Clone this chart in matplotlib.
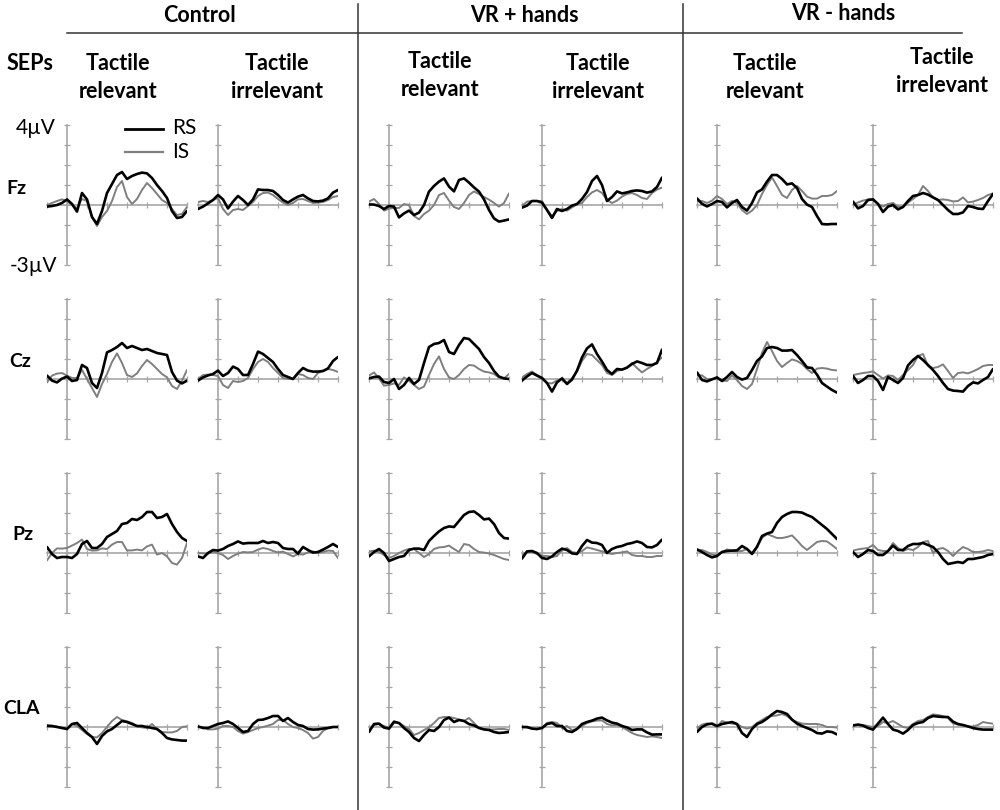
import matplotlib
matplotlib.use("Agg")
import matplotlib.pyplot as plt
from matplotlib.lines import Line2D

plt.rcParams['font.family'] = ['Lato', 'DejaVu Sans']

# ---------------- data ----------------
times = list(range(-100, 601, 25))  # ms

groups = ["Control", "VR + hands", "VR - hands"]
conditions = ["Tactile\nrelevant", "Tactile\nirrelevant"]
electrodes = ["Fz", "Cz", "Pz", "CLA"]
series_names = ["RS", "IS"]

# Fz
fz_ctrl_rel_rs = [-0.08, -0.05, 0, 0.1, 0.28, 0.05, -0.33, 0.6, 0.28, -0.6, -0.95, -0.3, 0.6, 1.05, 1.5, 1.65, 1.3, 1.45, 1.55, 1.62, 1.58, 1.35, 1.0, 0.7, 0.35, -0.3, -0.65, -0.6, -0.3]
fz_ctrl_rel_is = [0, 0.1, 0.2, 0.28, 0.2, 0.0, -0.17, 0.3, 0.2, -0.6, -1.05, -0.6, -0.3, 0.2, 0.9, 1.2, 0.4, 0.05, 0.3, 0.75, 1.1, 0.85, 0.55, 0.25, 0.1, -0.2, -0.5, -0.45, -0.1]
fz_ctrl_irr_rs = [-0.2, -0.08, 0.08, 0.25, 0.5, 0.28, -0.17, 0.17, 0.45, 0.25, 0.0, 0.28, 0.78, 0.75, 0.75, 0.7, 0.5, 0.25, 0.12, 0.28, 0.42, 0.5, 0.33, 0.2, 0.18, 0.22, 0.33, 0.62, 0.75]
fz_ctrl_irr_is = [0.15, 0.2, 0.15, 0.25, 0.35, -0.2, -0.5, -0.25, -0.2, -0.25, -0.05, 0.15, 0.45, 0.6, 0.62, 0.5, 0.3, 0.12, 0.0, 0.1, 0.28, 0.3, 0.2, 0.1, 0.12, 0.15, 0.25, 0.4, 0.45]
fz_vrh_rel_rs = [0.03, 0.02, -0.05, -0.2, -0.05, -0.08, -0.62, -0.42, -0.28, -0.5, -0.38, 0.0, 0.67, 0.95, 1.17, 1.33, 0.92, 0.68, 1.25, 1.33, 1.12, 0.88, 0.67, 0.28, -0.25, -0.67, -0.83, -0.78, -0.72]
fz_vrh_rel_is = [0.17, 0.3, 0.05, -0.28, -0.18, -0.15, -0.15, 0.05, 0.0, -0.55, -0.72, -0.45, -0.28, 0.0, 0.5, 0.6, 0.22, -0.1, -0.2, 0.1, 0.5, 0.68, 0.55, 0.4, 0.27, 0.1, -0.08, 0.1, 0.58]
fz_vrh_irr_rs = [-0.13, -0.03, 0.2, 0.2, 0.12, -0.25, -0.65, -0.2, -0.3, -0.2, -0.03, 0.05, 0.3, 0.65, 1.2, 1.45, 1.0, 0.2, 0.4, 0.68, 0.58, 0.63, 0.7, 0.73, 0.7, 0.62, 0.68, 0.9, 1.37]
fz_vrh_irr_is = [-0.05, 0.17, 0.2, 0.2, 0.2, -0.25, -0.55, -0.3, -0.2, -0.28, -0.12, 0.03, 0.1, 0.4, 0.63, 0.75, 0.6, 0.25, 0.1, 0.22, 0.42, 0.55, 0.6, 0.5, 0.35, 0.3, 0.6, 0.77, 0.87]
fz_vrn_rel_rs = [0.33, 0.06, -0.07, 0.05, 0.2, 0.15, -0.12, 0.1, 0.25, -0.1, -0.28, 0.1, 0.63, 0.78, 1.17, 1.5, 1.5, 1.3, 1.03, 1.08, 0.85, 0.3, 0.02, -0.1, -0.55, -0.95, -0.97, -0.95, -0.95]
fz_vrn_rel_is = [0.17, 0.2, 0.1, 0.22, 0.45, 0.3, 0.05, 0.2, 0.1, -0.25, -0.45, -0.28, 0.0, 0.55, 1.0, 1.38, 0.95, 0.5, 0.35, 0.75, 0.95, 0.7, 0.42, 0.32, 0.32, 0.45, 0.45, 0.5, 0.7]
fz_vrn_irr_rs = [0.17, -0.17, -0.05, 0.25, 0.28, 0.05, -0.35, -0.08, 0.0, -0.22, -0.1, 0.2, 0.45, 0.5, 0.6, 0.52, 0.38, 0.25, 0.0, -0.25, -0.45, -0.45, -0.37, -0.05, -0.1, -0.18, -0.2, 0.2, 0.55]
fz_vrn_irr_is = [0.0, 0.13, 0.22, 0.28, 0.3, 0.05, -0.08, 0.05, 0.1, -0.08, -0.1, 0.12, 0.3, 0.5, 0.95, 0.7, 0.38, 0.25, 0.28, 0.25, 0.18, 0.2, 0.38, 0.13, 0.17, 0.25, 0.35, 0.5, 0.58]

# Cz
cz_ctrl_rel_rs = [0.17, -0.08, -0.17, 0.02, 0.12, -0.1, -0.05, 0.7, 0.55, -0.2, -0.45, 0.3, 1.33, 1.45, 1.6, 1.8, 1.55, 1.65, 1.55, 1.45, 1.5, 1.4, 1.3, 1.25, 1.2, 0.35, -0.08, -0.22, -0.08]
cz_ctrl_rel_is = [-0.17, 0.17, 0.27, 0.3, 0.17, 0.05, 0.05, 0.45, 0.0, -0.45, -0.9, -0.25, 0.25, 0.85, 1.28, 0.8, 0.2, 0.1, 0.28, 0.65, 0.95, 0.75, 0.5, 0.25, 0.08, -0.35, -0.5, -0.08, 0.45]
cz_ctrl_irr_rs = [-0.08, 0.08, 0.18, 0.25, 0.42, 0.15, 0.3, 0.62, 0.5, 0.2, 0.2, 0.75, 1.37, 1.25, 1.05, 0.85, 0.5, 0.2, 0.1, 0.0, 0.3, 0.55, 0.42, 0.37, 0.37, 0.4, 0.53, 0.9, 1.1]
cz_ctrl_irr_is = [0.0, 0.2, 0.22, 0.2, 0.15, -0.3, -0.45, -0.1, -0.15, -0.1, 0.05, 0.5, 0.85, 1.0, 0.85, 0.55, 0.3, 0.05, 0.0, 0.0, 0.25, 0.2, 0.05, 0.0, 0.3, 0.4, 0.5, 0.45, 0.35]
cz_vrh_rel_rs = [0.03, 0.1, 0.12, -0.15, -0.2, 0.0, -0.5, -0.3, 0.05, -0.25, -0.05, 0.8, 1.6, 1.75, 1.8, 1.95, 1.35, 1.25, 1.7, 2.05, 2.0, 1.75, 1.5, 1.1, 0.8, 0.4, 0.12, 0.03, 0.0]
cz_vrh_rel_is = [0.17, 0.33, 0.03, -0.33, -0.3, -0.22, -0.3, 0.08, -0.08, -0.3, -0.5, -0.38, 0.2, 0.75, 1.13, 0.5, 0.08, 0.0, 0.2, 0.5, 0.7, 0.67, 0.5, 0.37, 0.33, 0.25, 0.08, 0.03, 0.25]
cz_vrh_irr_rs = [-0.08, 0.13, 0.3, 0.17, 0.05, -0.2, -0.63, -0.17, 0.03, -0.25, -0.03, 0.42, 1.08, 1.53, 1.73, 1.25, 0.87, 0.45, 0.25, 0.5, 0.47, 0.57, 0.75, 0.88, 0.8, 0.7, 0.7, 0.8, 1.47]
cz_vrh_irr_is = [0.08, 0.25, 0.37, 0.2, 0.05, -0.2, -0.22, -0.07, 0.0, -0.2, 0.05, 0.37, 0.9, 1.25, 1.2, 0.95, 0.7, 0.3, 0.2, 0.4, 0.47, 0.55, 0.8, 0.55, 0.33, 0.5, 0.65, 0.85, 1.08]
cz_vrn_rel_rs = [0.33, -0.05, -0.12, -0.02, 0.08, -0.1, 0.1, 0.35, 0.1, -0.03, 0.05, 0.45, 0.9, 1.13, 1.55, 1.6, 1.55, 1.42, 1.42, 1.45, 1.2, 0.9, 0.58, 0.55, 0.22, -0.2, -0.38, -0.55, -0.68]
cz_vrn_rel_is = [0.18, 0.18, 0.0, 0.0, 0.02, -0.08, -0.1, 0.18, -0.05, -0.35, -0.5, -0.25, 0.5, 1.3, 1.85, 1.4, 0.9, 0.6, 0.8, 0.98, 0.9, 0.75, 0.5, 0.3, 0.52, 0.55, 0.52, 0.45, 0.43]
cz_vrn_irr_rs = [0.15, -0.2, -0.05, 0.15, 0.15, -0.1, -0.55, 0.1, -0.05, -0.2, 0.05, 0.68, 0.95, 1.15, 0.95, 0.7, 0.45, 0.15, -0.2, -0.5, -0.58, -0.6, -0.63, -0.35, -0.17, -0.22, -0.05, 0.1, 0.5]
cz_vrn_irr_is = [0.2, 0.25, 0.3, 0.33, 0.38, 0.2, 0.02, 0.18, 0.15, -0.05, 0.2, 0.45, 0.7, 1.15, 1.25, 0.65, 0.55, 0.6, 0.73, 0.4, 0.05, 0.3, 0.33, 0.28, 0.38, 0.5, 0.65, 0.7, 0.7]

# Pz
pz_ctrl_rel_rs = [0.3, -0.05, -0.25, -0.2, -0.2, -0.25, -0.05, 0.45, 0.6, 0.25, 0.25, 0.45, 0.8, 0.95, 1.1, 1.45, 1.5, 1.7, 1.65, 1.8, 2.05, 2.05, 1.75, 1.8, 1.95, 1.45, 1.05, 0.75, 0.6]
pz_ctrl_rel_is = [-0.37, 0.0, 0.23, 0.22, 0.25, 0.37, 0.5, 0.67, 0.2, 0.12, 0.13, 0.23, 0.2, 0.42, 0.55, 0.55, 0.13, 0.13, 0.17, 0.13, 0.33, 0.42, -0.08, 0.0, -0.17, -0.5, -0.58, -0.25, 0.5]
pz_ctrl_irr_rs = [-0.17, -0.25, 0.0, 0.15, 0.12, 0.2, 0.35, 0.45, 0.58, 0.47, 0.5, 0.5, 0.5, 0.6, 0.5, 0.55, 0.5, 0.25, 0.2, 0.2, -0.03, 0.3, 0.15, 0.02, 0.05, 0.17, 0.3, 0.45, 0.3]
pz_ctrl_irr_is = [0.0, -0.02, -0.03, 0.05, 0.0, -0.1, -0.3, -0.15, -0.03, 0.05, 0.03, 0.05, 0.17, 0.25, 0.2, 0.1, 0.03, 0.07, -0.05, -0.17, -0.05, -0.08, 0.03, 0.08, 0.0, 0.05, 0.12, 0.1, -0.25]
pz_vrh_rel_rs = [-0.17, 0.05, 0.2, 0.0, -0.4, -0.3, -0.2, -0.15, 0.15, 0.22, 0.22, 0.15, 0.6, 0.85, 1.08, 1.25, 1.33, 1.3, 1.6, 1.9, 2.05, 2.08, 1.9, 1.68, 1.72, 1.45, 1.0, 0.75, 0.72]
pz_vrh_rel_is = [0.08, 0.12, 0.05, -0.1, -0.25, -0.15, 0.0, 0.12, 0.2, 0.2, 0.0, -0.2, -0.05, 0.2, 0.28, 0.3, 0.37, 0.2, 0.05, 0.45, 0.4, 0.2, 0.05, 0.02, -0.02, -0.1, -0.2, -0.3, -0.35]
pz_vrh_irr_rs = [-0.28, 0.08, 0.1, 0.0, -0.25, -0.3, -0.17, 0.05, 0.22, 0.15, -0.02, -0.05, 0.35, 0.65, 0.52, 0.5, 0.4, 0.0, 0.2, 0.3, 0.35, 0.45, 0.5, 0.58, 0.5, 0.3, 0.28, 0.4, 0.67]
pz_vrh_irr_is = [-0.1, 0.05, 0.05, -0.05, -0.15, -0.15, -0.2, -0.15, 0.15, 0.25, 0.05, 0.0, 0.1, 0.28, 0.22, 0.15, 0.08, 0.0, -0.05, 0.0, 0.03, 0.08, -0.1, -0.15, -0.15, -0.2, -0.2, -0.15, -0.15]
pz_vrn_rel_rs = [0.18, 0.05, -0.1, -0.22, -0.15, 0.05, 0.1, 0.12, 0.13, 0.35, 0.2, -0.05, 0.3, 0.85, 0.97, 1.05, 1.5, 1.8, 1.95, 2.05, 2.05, 2.02, 1.9, 1.8, 1.6, 1.4, 1.2, 0.95, 0.7]
pz_vrn_rel_is = [0.13, 0.15, 0.05, -0.08, -0.12, 0.05, 0.18, 0.1, 0.08, 0.1, 0.2, 0.0, 0.35, 0.75, 0.95, 0.85, 0.75, 0.75, 0.8, 0.88, 0.63, 0.35, 0.15, 0.35, 0.55, 0.6, 0.58, 0.4, 0.2]
pz_vrn_irr_rs = [0.05, -0.2, -0.05, 0.15, 0.1, -0.1, -0.1, 0.1, 0.37, 0.15, 0.15, 0.35, 0.45, 0.45, 0.5, 0.4, 0.3, 0.05, -0.3, -0.55, -0.5, -0.45, -0.5, -0.3, -0.3, -0.25, -0.2, -0.1, -0.05]
pz_vrn_irr_is = [0.12, 0.18, 0.22, 0.25, 0.4, 0.15, 0.1, 0.1, 0.5, 0.25, 0.1, 0.2, 0.15, 0.3, 0.55, 0.6, 0.0, 0.2, 0.25, 0.1, -0.15, 0.1, 0.3, 0.2, 0.05, 0.05, 0.08, 0.15, 0.1]

# CLA
cla_ctrl_rel_rs = [0.07, 0.05, 0.0, -0.05, -0.1, 0.15, 0.2, -0.05, -0.3, -0.5, -0.85, -0.45, -0.22, -0.1, 0.1, 0.3, 0.25, 0.15, 0.05, 0.05, 0.0, -0.05, -0.1, -0.3, -0.55, -0.62, -0.65, -0.68, -0.68]
cla_ctrl_rel_is = [0.0, 0.03, 0.03, -0.05, -0.08, 0.15, 0.05, -0.15, -0.35, -0.5, -0.52, -0.3, 0.0, 0.3, 0.5, 0.35, 0.28, 0.2, 0.05, -0.02, -0.05, 0.15, -0.1, -0.25, -0.27, -0.27, -0.2, 0.0, 0.03]
cla_ctrl_irr_rs = [0.03, -0.05, -0.05, 0.05, 0.15, 0.2, 0.28, 0.15, -0.05, -0.25, -0.2, 0.15, 0.35, 0.37, 0.45, 0.55, 0.55, 0.3, 0.45, 0.25, 0.1, 0.05, -0.1, -0.13, -0.12, -0.08, -0.05, 0.0, 0.0]
cla_ctrl_irr_is = [0.0, 0.0, -0.12, -0.12, -0.08, 0.05, 0.05, 0.0, -0.2, -0.33, -0.25, -0.15, -0.05, 0.0, 0.07, 0.15, 0.35, 0.35, 0.15, 0.0, -0.05, -0.15, -0.3, -0.58, -0.5, -0.2, -0.05, 0.0, 0.0]
cla_vrh_rel_rs = [-0.25, 0.15, 0.17, -0.03, -0.08, 0.25, 0.2, -0.05, -0.25, -0.55, -0.7, -0.4, -0.15, -0.2, 0.0, 0.35, 0.47, 0.25, 0.35, 0.3, 0.15, 0.08, -0.05, -0.12, -0.15, -0.25, -0.3, -0.28, -0.25]
cla_vrh_rel_is = [-0.12, 0.1, 0.15, 0.05, -0.03, 0.3, 0.2, 0.05, -0.1, -0.4, -0.3, -0.15, -0.02, 0.2, 0.45, 0.5, 0.5, 0.45, 0.37, 0.3, 0.45, 0.2, -0.05, -0.12, -0.13, -0.12, -0.1, -0.1, -0.15]
cla_vrh_irr_rs = [0.0, 0.0, -0.08, -0.1, -0.05, 0.15, 0.2, 0.05, 0.05, -0.2, -0.25, -0.1, 0.15, 0.25, 0.32, 0.42, 0.47, 0.33, 0.22, 0.17, 0.05, -0.02, -0.15, -0.12, -0.12, -0.27, -0.38, -0.37, -0.37]
cla_vrh_irr_is = [0.0, -0.03, -0.08, -0.12, -0.05, 0.2, 0.25, 0.2, -0.05, 0.05, -0.15, -0.1, 0.05, 0.2, 0.28, 0.32, 0.33, 0.15, 0.08, 0.1, 0.0, -0.15, -0.3, -0.4, -0.45, -0.5, -0.47, -0.5, -0.55]
cla_vrn_rel_rs = [-0.25, 0.0, 0.13, 0.17, 0.05, 0.15, 0.2, 0.25, 0.15, -0.3, -0.5, -0.1, 0.15, 0.25, 0.42, 0.63, 0.8, 0.75, 0.65, 0.37, 0.17, 0.05, -0.05, -0.15, -0.3, -0.33, -0.22, -0.25, -0.37]
cla_vrn_rel_is = [-0.08, 0.12, 0.18, 0.15, 0.0, 0.3, 0.22, 0.17, 0.15, 0.0, -0.08, 0.0, 0.2, 0.35, 0.5, 0.55, 0.58, 0.65, 0.55, 0.35, 0.25, 0.17, 0.15, 0.15, 0.15, 0.1, 0.0, 0.0, -0.03]
cla_vrn_irr_rs = [0.08, 0.12, 0.07, -0.05, -0.13, 0.17, 0.47, 0.15, -0.13, -0.2, -0.33, -0.15, 0.1, 0.2, 0.25, 0.45, 0.55, 0.52, 0.5, 0.5, 0.27, 0.15, 0.1, 0.03, -0.05, -0.1, -0.13, -0.13, -0.13]
cla_vrn_irr_is = [0.08, 0.12, 0.1, 0.05, 0.0, 0.05, 0.25, 0.2, 0.3, 0.15, 0.0, -0.05, 0.15, 0.3, 0.35, 0.5, 0.63, 0.6, 0.55, 0.45, 0.18, 0.12, 0.07, 0.03, 0.02, 0.1, 0.25, 0.2, 0.17]

rows_data = [
    [(fz_ctrl_rel_rs, fz_ctrl_rel_is), (fz_ctrl_irr_rs, fz_ctrl_irr_is),
     (fz_vrh_rel_rs, fz_vrh_rel_is), (fz_vrh_irr_rs, fz_vrh_irr_is),
     (fz_vrn_rel_rs, fz_vrn_rel_is), (fz_vrn_irr_rs, fz_vrn_irr_is)],
    [(cz_ctrl_rel_rs, cz_ctrl_rel_is), (cz_ctrl_irr_rs, cz_ctrl_irr_is),
     (cz_vrh_rel_rs, cz_vrh_rel_is), (cz_vrh_irr_rs, cz_vrh_irr_is),
     (cz_vrn_rel_rs, cz_vrn_rel_is), (cz_vrn_irr_rs, cz_vrn_irr_is)],
    [(pz_ctrl_rel_rs, pz_ctrl_rel_is), (pz_ctrl_irr_rs, pz_ctrl_irr_is),
     (pz_vrh_rel_rs, pz_vrh_rel_is), (pz_vrh_irr_rs, pz_vrh_irr_is),
     (pz_vrn_rel_rs, pz_vrn_rel_is), (pz_vrn_irr_rs, pz_vrn_irr_is)],
    [(cla_ctrl_rel_rs, cla_ctrl_rel_is), (cla_ctrl_irr_rs, cla_ctrl_irr_is),
     (cla_vrh_rel_rs, cla_vrh_rel_is), (cla_vrh_irr_rs, cla_vrh_irr_is),
     (cla_vrn_rel_rs, cla_vrn_rel_is), (cla_vrn_irr_rs, cla_vrn_irr_is)],
]

# ---------------- layout (pixels) ----------------
W, H = 1000, 810
col_axis_x = [67, 218, 389, 542, 717, 873]   # pixel x of t=0
row_zero_y = [205, 379, 553, 727]            # pixel y of 0 uV
px_per_100ms = 20
px_per_uv = 20
t_min, t_max = -100, 600
v_min, v_max = -3, 4

AX_COL = '#a6a6a6'
RS_COL = '#000000'
IS_COL = '#7f7f7f'

fig = plt.figure(figsize=(W / 100, H / 100), dpi=100)

def fx(px):
    return px / W

def fy(py):
    return 1 - py / H

for r in range(4):
    for c in range(6):
        left_px = col_axis_x[c] + t_min / 100 * px_per_100ms
        width_px = (t_max - t_min) / 100 * px_per_100ms
        top_px = row_zero_y[r] - v_max * px_per_uv
        height_px = (v_max - v_min) * px_per_uv
        ax = fig.add_axes([fx(left_px), fy(top_px + height_px), width_px / W, height_px / H])
        ax.set_xlim(t_min, t_max)
        ax.set_ylim(v_min, v_max)
        ax.patch.set_alpha(0)
        for s in ('top', 'right'):
            ax.spines[s].set_visible(False)
        ax.spines['left'].set_position(('data', 0))
        ax.spines['bottom'].set_position(('data', 0))
        for s in ('left', 'bottom'):
            ax.spines[s].set_color(AX_COL)
            ax.spines[s].set_linewidth(1.2)
            ax.spines[s].set_zorder(1)
        ax.set_xticks(list(range(-100, 601, 100)))
        ax.set_yticks(list(range(-3, 5)))
        ax.tick_params(direction='inout', length=5, width=0.9, color=AX_COL,
                       labelbottom=False, labelleft=False)
        rs, is_ = rows_data[r][c]
        ax.plot(times, is_, color=IS_COL, lw=1.4, zorder=2,
                solid_joinstyle='round', solid_capstyle='round')
        ax.plot(times, rs, color=RS_COL, lw=1.9, zorder=3,
                solid_joinstyle='round', solid_capstyle='round')

# separators
fig.add_artist(Line2D([fx(67), fx(962)], [fy(33), fy(33)], color='#333333', lw=1.1))
for xs in (358, 683):
    fig.add_artist(Line2D([fx(xs), fx(xs)], [fy(4), 0], color='#333333', lw=1.1))

HDR = 15.5
# group headers
fig.text(fx(200), fy(15), groups[0], ha='center', va='center', fontsize=HDR, fontweight='bold')
fig.text(fx(524), fy(15), groups[1], ha='center', va='center', fontsize=HDR, fontweight='bold')
fig.text(fx(843), fy(13), groups[2], ha='center', va='center', fontsize=HDR, fontweight='bold')

# sub headers
sub_x = [118, 277, 440, 598, 765, 942]
sub_y1 = [63, 63, 62, 63, 63, 58]
sub_y2 = [91, 91, 89, 91, 92, 86]
for i in range(6):
    l1, l2 = conditions[i % 2].split('\n')
    fig.text(fx(sub_x[i]), fy(sub_y1[i]), l1, ha='center', va='center', fontsize=HDR, fontweight='bold')
    fig.text(fx(sub_x[i]), fy(sub_y2[i]), l2, ha='center', va='center', fontsize=HDR, fontweight='bold')

fig.text(fx(30), fy(64), "SEPs", ha='center', va='center', fontsize=HDR, fontweight='bold')

# row labels
row_lab_x = [16, 20, 23, 22]
row_lab_y = [188, 362, 534, 709]
for i, e in enumerate(electrodes):
    fig.text(fx(row_lab_x[i]), fy(row_lab_y[i]), e, ha='center', va='center', fontsize=14, fontweight='bold')

# scale labels
fig.text(fx(56), fy(128), "4\u00b5V", ha='right', va='center', fontsize=15)
fig.text(fx(57), fy(266), "-3\u00b5V", ha='right', va='center', fontsize=15)

# legend
fig.add_artist(Line2D([fx(125), fx(163)], [fy(129), fy(129)], color=RS_COL, lw=2.0))
fig.add_artist(Line2D([fx(125), fx(163)], [fy(152), fy(152)], color=IS_COL, lw=1.6))
fig.text(fx(172), fy(128), series_names[0], ha='left', va='center', fontsize=15)
fig.text(fx(172), fy(152), series_names[1], ha='left', va='center', fontsize=15)

fig.savefig("out.png", dpi=100, facecolor='white')
